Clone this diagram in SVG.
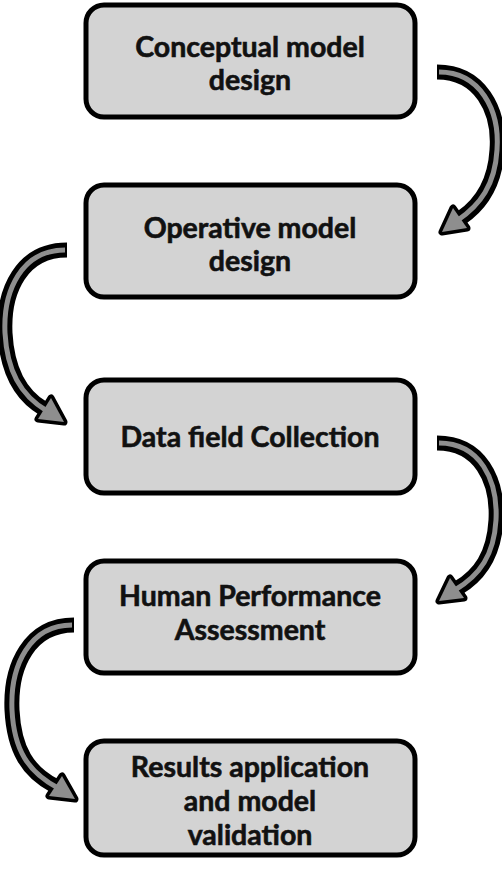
<svg xmlns="http://www.w3.org/2000/svg" width="502" height="870" viewBox="0 0 502 870">
<style>
.box{fill:#d3d3d3;stroke:#000;stroke-width:5}
.t{font-family:Lato,"Liberation Sans",sans-serif;font-weight:700;font-size:28.5px;fill:#111;stroke:#111;stroke-width:0.6;text-anchor:middle}
.sb{fill:none;stroke:#000;stroke-width:15;stroke-linecap:butt}
.sg{fill:none;stroke:#8e8e8e;stroke-width:5;stroke-linecap:butt}
.hb{fill:#000;stroke:#000;stroke-width:7;stroke-linejoin:round}
.hg{fill:#8e8e8e;stroke:none}
</style>
<rect width="502" height="870" fill="#fff"/>
<g id="n1"><rect class="box" x="86" y="5" width="329" height="112" rx="18"/>
<text class="t" x="250" y="57">Conceptual model</text><text class="t" x="250" y="90">design</text></g>
<g id="n2"><rect class="box" x="86" y="185" width="329" height="112" rx="18"/>
<text class="t" x="250" y="238">Operative model</text><text class="t" x="250" y="271">design</text></g>
<g id="n3"><rect class="box" x="86" y="380" width="329" height="113" rx="18"/>
<text class="t" x="250" y="447">Data field Collection</text></g>
<g id="n4"><rect class="box" x="86" y="561" width="329" height="112" rx="18"/>
<text class="t" x="250" y="606">Human Performance</text><text class="t" x="250" y="640">Assessment</text></g>
<g id="n5"><rect class="box" x="86" y="741" width="329" height="114" rx="18"/>
<text class="t" x="250" y="777">Results application</text><text class="t" x="250" y="811">and model</text><text class="t" x="250" y="845">validation</text></g>
<g id="connectors">
<g id="a1">
<path class="sb" d="M437,72 C480,72 500,110 497,150 C495,185 480,205 461,218"/>
<polygon class="hb" points="442,232 467,228 453,208"/>
<path class="sg" d="M439,72 C480,72 500,110 497,150 C495,185 480,205 458,220"/>
<polygon class="hg" points="442,232 467,228 453,208"/>
</g>
<g id="a2">
<path class="sb" d="M67,250 C22,250 3,290 5,333 C7,370 20,395 44,409"/>
<polygon class="hb" points="64,422 51,398 38,419"/>
<path class="sg" d="M65,250 C22,250 3,290 5,333 C7,370 20,395 47,411"/>
<polygon class="hg" points="64,422 51,398 38,419"/>
</g>
<g id="a3">
<path class="sb" d="M437,443 C480,443 498,480 496,520 C494,555 480,575 458,588"/>
<polygon class="hb" points="439,601 464,598 450,578"/>
<path class="sg" d="M439,443 C480,443 498,480 496,520 C494,555 480,575 455,590"/>
<polygon class="hg" points="439,601 464,598 450,578"/>
</g>
<g id="a4">
<path class="sb" d="M74,625 C30,625 10,665 12,710 C14,750 28,772 55,786"/>
<polygon class="hb" points="75,799 62,776 49,796"/>
<path class="sg" d="M72,625 C30,625 10,665 12,710 C14,750 28,772 58,788"/>
<polygon class="hg" points="75,799 62,776 49,796"/>
</g>
</g>
</svg>
